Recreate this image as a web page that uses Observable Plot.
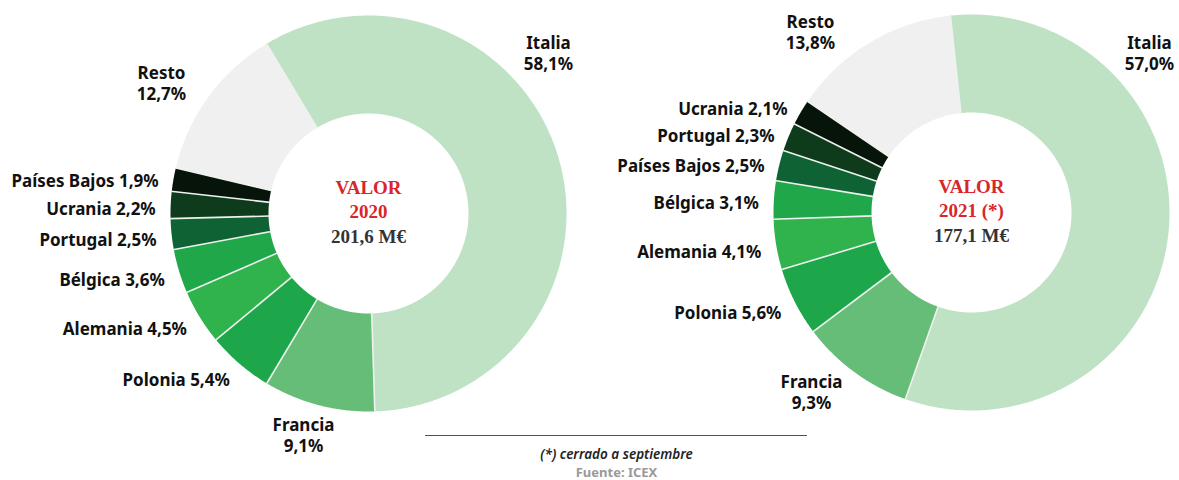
<!DOCTYPE html>
<html>
<head>
<meta charset="utf-8">
<script src="https://cdn.jsdelivr.net/npm/d3@7"></script>
<script src="https://cdn.jsdelivr.net/npm/@observablehq/plot@0.6"></script>
<style>
  html, body { margin: 0; padding: 0; background: #fff; }
  #chart svg { display: block; }
</style>
</head>
<body>
<div id="chart"></div>
<script>
// ---- Data ----
const countries2020 = ["Italia", "Francia", "Polonia", "Alemania", "Bélgica", "Portugal", "Ucrania", "Países Bajos", "Resto"];
const shares2020    = [58.1, 9.1, 5.4, 4.5, 3.6, 2.5, 2.2, 1.9, 12.7];
const countries2021 = ["Italia", "Francia", "Polonia", "Alemania", "Bélgica", "Países Bajos", "Portugal", "Ucrania", "Resto"];
const shares2021    = [57.0, 9.3, 5.6, 4.1, 3.1, 2.5, 2.3, 2.1, 13.8];
const yearLabels    = ["2020", "2021 (*)"];
const totalLabels   = ["201,6 M€", "177,1 M€"];
const footnote      = "(*) cerrado a septiembre";
const source        = "Fuente: ICEX";

// ---- Styling / layout (not data) ----
const rankColors = ["#bfe2c5", "#66bd77", "#1da64a", "#30b34d", "#20a74a", "#0f6234", "#0d3b1c", "#07140a", "#f0f0f0"];
const W = 1179, H = 480;
const donuts = [
  {countries: countries2020, shares: shares2020, cx: 368, cy: 213, start: -31.0, year: yearLabels[0], total: totalLabels[0],
   big: {"Italia": [548, 52], "Resto": [161, 82], "Francia": [303, 434]}},
  {countries: countries2021, shares: shares2021, cx: 971, cy: 212, start: -6.1, year: yearLabels[1], total: totalLabels[1],
   big: {"Italia": [1149, 52], "Resto": [810, 31], "Francia": [811, 391]}}
];
const R = 198, r0 = 100, labelR = 213;
const rad = Math.PI / 180;
const fmt = v => v.toFixed(1).replace(".", ",") + "%";

const polys = [], seps = [], smallLabels = [], bigLabels = [], centerText = [];
donuts.forEach((dn, di) => {
  const pie = d3.pie().sort(null).value(d => d.v)
    .startAngle(dn.start * rad).endAngle(dn.start * rad + 2 * Math.PI);
  const arcs = pie(dn.countries.map((c, i) => ({c, v: dn.shares[i], rank: i})));
  arcs.forEach(a => {
    const key = di + "-" + a.data.c;
    const n = Math.max(2, Math.ceil((a.endAngle - a.startAngle) / (0.5 * rad)));
    const pts = [];
    for (let k = 0; k <= n; k++) {
      const t = a.startAngle + (a.endAngle - a.startAngle) * k / n;
      pts.push([dn.cx + R * Math.sin(t), dn.cy - R * Math.cos(t)]);
    }
    for (let k = n; k >= 0; k--) {
      const t = a.startAngle + (a.endAngle - a.startAngle) * k / n;
      pts.push([dn.cx + r0 * Math.sin(t), dn.cy - r0 * Math.cos(t)]);
    }
    pts.forEach(p => polys.push({key, rank: a.data.rank, x: p[0], y: p[1]}));
    const s = a.startAngle;
    seps.push({x1: dn.cx + (r0 - 1) * Math.sin(s), y1: dn.cy - (r0 - 1) * Math.cos(s),
               x2: dn.cx + (R + 1) * Math.sin(s), y2: dn.cy - (R + 1) * Math.cos(s)});
    const label = a.data.c;
    if (dn.big[label]) {
      bigLabels.push({x: dn.big[label][0], y: dn.big[label][1], text: label + "\n" + fmt(a.data.v)});
    } else {
      const m = (a.startAngle + a.endAngle) / 2;
      smallLabels.push({x: dn.cx + labelR * Math.sin(m), y: dn.cy - labelR * Math.cos(m) + 5,
                        text: label + " " + fmt(a.data.v)});
    }
  });
  centerText.push({x: dn.cx, y: dn.cy - 26, text: "VALOR", red: true});
  centerText.push({x: dn.cx, y: dn.cy - 2, text: dn.year, red: true});
  centerText.push({x: dn.cx, y: dn.cy + 23, text: dn.total, red: false});
});

const labelFont = "'Noto Sans', sans-serif";
const chart = Plot.plot({
  width: W, height: H, margin: 0,
  x: {domain: [0, W], range: [0, W], axis: null},
  y: {domain: [0, H], range: [0, H], axis: null},
  color: {domain: d3.range(9), range: rankColors},
  style: {background: "#fff"},
  marks: [
    Plot.line(polys, {x: "x", y: "y", z: "key", fill: "rank", stroke: null, curve: "linear-closed"}),
    Plot.link(seps, {x1: "x1", y1: "y1", x2: "x2", y2: "y2", stroke: "#eef2ee", strokeWidth: 1.6}),
    Plot.text(smallLabels, {x: "x", y: "y", text: "text", textAnchor: "end", fontSize: 17, fontWeight: "bold",
      fontFamily: labelFont, fill: "#111"}),
    Plot.text(bigLabels, {x: "x", y: "y", text: "text", textAnchor: "middle", fontSize: 17, fontWeight: "bold",
      fontFamily: labelFont, fill: "#111", lineHeight: 1.25}),
    Plot.text(centerText, {x: "x", y: "y", text: "text", fontSize: 19, fontWeight: "bold",
      fontFamily: "'Liberation Serif', 'DejaVu Serif', serif", fill: d => d.red ? "#d8262b" : "#333"}),
    Plot.ruleY([435], {x1: 425, x2: 807, stroke: "#555", strokeWidth: 1}),
    Plot.text([footnote], {x: 616, y: 454, text: d => d, fontSize: 13.5, fontStyle: "italic", fontWeight: 600,
      fontFamily: labelFont, fill: "#222"}),
    Plot.text([source], {x: 616, y: 472, text: d => d, fontSize: 13, fontWeight: "bold",
      fontFamily: labelFont, fill: "#999"})
  ]
});
document.getElementById("chart").appendChild(chart);
</script>
</body>
</html>
